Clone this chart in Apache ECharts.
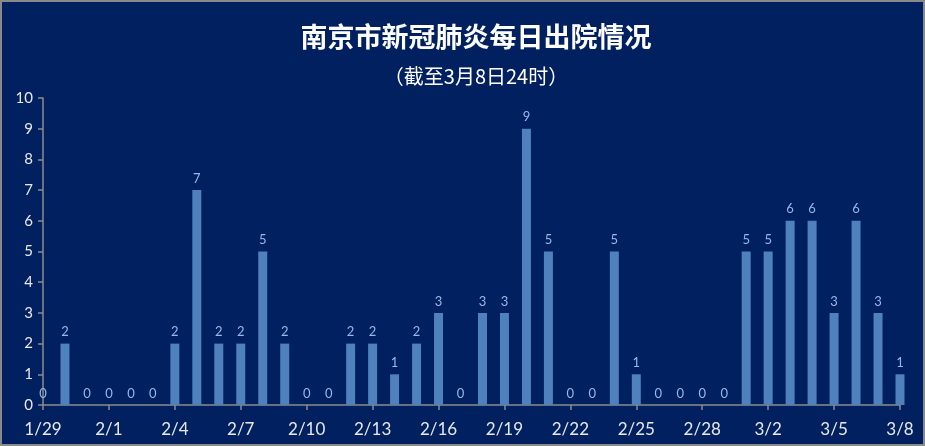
<!DOCTYPE html>
<html><head><meta charset="utf-8">
<script src="https://cdn.jsdelivr.net/npm/echarts@6/dist/echarts.min.js"></script>
<style>
html,body{margin:0;padding:0;background:#00205f;}
#c{width:925px;height:446px;}
#b{position:absolute;left:0;top:0;width:925px;height:446px;box-sizing:border-box;border:2px solid #8a8a8a;pointer-events:none;}
</style></head>
<body>
<div id="c"></div><div id="b"></div>
<script>
const categories = ['1/29','1/30','1/31','2/1','2/2','2/3','2/4','2/5','2/6','2/7','2/8','2/9','2/10','2/11','2/12','2/13','2/14','2/15','2/16','2/17','2/18','2/19','2/20','2/21','2/22','2/23','2/24','2/25','2/26','2/27','2/28','2/29','3/1','3/2','3/3','3/4','3/5','3/6','3/7','3/8'];
const discharged = [0,2,0,0,0,0,2,7,2,2,5,2,0,0,2,2,1,2,3,0,3,3,9,5,0,0,5,1,0,0,0,0,5,5,6,6,3,6,3,1];
const titleText = '南京市新冠肺炎每日出院情况';
const subtitleText = '（截至3月8日24时）';

const chart = echarts.init(document.getElementById('c'));
chart.setOption({
  backgroundColor:'#00205f',
  animation:false,
  title:[{
    text:titleText, left:471, textAlign:'center', top:18,
    textStyle:{color:'#ffffff',fontSize:27,fontWeight:'bold',fontFamily:'Noto Sans CJK SC'}
  },{
    text:subtitleText, left:471, textAlign:'center', top:61,
    textStyle:{color:'#ffffff',fontSize:20,fontWeight:'normal',fontFamily:'Noto Sans CJK SC'}
  }],
  grid:{left:43,right:25,top:98,bottom:41},
  xAxis:{
    type:'category', data:categories, boundaryGap:false,
    axisLine:{lineStyle:{color:'#8c8c8c',width:1.5}},
    axisTick:{interval:2,length:5,lineStyle:{color:'#8c8c8c',width:1.5}},
    axisLabel:{interval:2,color:'#e8e8e8',fontSize:17,margin:16,fontFamily:'Lato'}
  },
  yAxis:{
    type:'value', min:0, max:10, interval:1,
    splitLine:{show:false},
    axisLine:{show:true,lineStyle:{color:'#8c8c8c',width:1.5}},
    axisTick:{show:true,length:5,lineStyle:{color:'#8c8c8c',width:1.5}},
    axisLabel:{color:'#e8e8e8',fontSize:15,margin:10,fontFamily:'Lato'}
  },
  series:[{
    type:'bar', data:discharged, barWidth:9, clip:true,
    itemStyle:{color:'#4f81bd'},
    label:{show:true,position:'top',distance:5,color:'#95b8e8',fontSize:13,fontFamily:'Lato'}
  }]
});
</script>
</body></html>
